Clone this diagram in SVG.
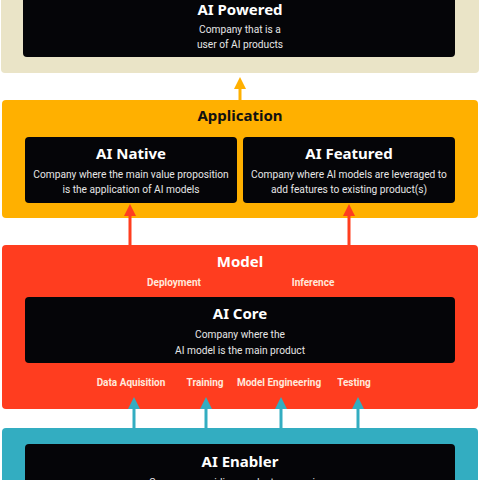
<svg xmlns="http://www.w3.org/2000/svg" width="480" height="480" viewBox="0 0 480 480">
<style>
text{font-family:"Noto Sans","Liberation Sans",sans-serif;text-anchor:middle}
.box{fill:#050508}
.t{font-size:15px;font-weight:700;fill:#fff}
.s{font-family:Roboto,"Liberation Sans",sans-serif;font-size:10.2px;fill:#e6e6e6}
.pt{font-size:15px;font-weight:700}
.lb{font-family:Roboto,"Liberation Sans",sans-serif;font-size:10px;font-weight:700;fill:#ffe9dc}
</style>
<defs>
<marker id="ay" markerWidth="4" markerHeight="4" refX="2" refY="2" orient="auto" markerUnits="strokeWidth"><path d="M0,0L4,2L0,4Z" fill="#FFB000"/></marker>
<marker id="ar" markerWidth="4" markerHeight="4" refX="2" refY="2" orient="auto" markerUnits="strokeWidth"><path d="M0,0L4,2L0,4Z" fill="#FF3D1F"/></marker>
<marker id="at" markerWidth="4" markerHeight="4" refX="2" refY="2" orient="auto" markerUnits="strokeWidth"><path d="M0,0L4,2L0,4Z" fill="#33ADC1"/></marker>
</defs>
<g id="panel-powered">
<rect x="1" y="-10" width="478" height="83" rx="4" fill="#EAE4C7"/>
<rect class="box" x="23" y="-10" width="432" height="67" rx="4"/>
<text class="t" x="240" y="15" font-size="16">AI Powered</text>
<text class="s" x="240" y="33">Company that is a</text>
<text class="s" x="240" y="48">user of AI products</text>
</g>
<g id="panel-application">
<rect x="2" y="100" width="476" height="118" rx="4" fill="#FFB000"/>
<text class="pt" x="240" y="121" fill="#111">Application</text>
</g>
<g id="ai-native">
<rect class="box" x="25" y="137" width="212" height="66" rx="4"/>
<text class="t" x="131" y="159">AI Native</text>
<text class="s" x="131" y="178">Company where the main value proposition</text>
<text class="s" x="131" y="193">is the application of AI models</text>
</g>
<g id="ai-featured">
<rect class="box" x="243" y="137" width="212" height="66" rx="4"/>
<text class="t" x="349" y="159">AI Featured</text>
<text class="s" x="349" y="178">Company where AI models are leveraged to</text>
<text class="s" x="349" y="193">add features to existing product(s)</text>
</g>
<g id="panel-model">
<rect x="2" y="245" width="476" height="164" rx="4" fill="#FF3D1F"/>
<text class="pt" x="240" y="267" fill="#fff">Model</text>
<text class="lb" x="174" y="286">Deployment</text>
<text class="lb" x="313" y="286">Inference</text>
<text class="lb" x="131" y="386">Data Aquisition</text>
<text class="lb" x="205" y="386">Training</text>
<text class="lb" x="279" y="386">Model Engineering</text>
<text class="lb" x="354" y="386">Testing</text>
</g>
<g id="ai-core">
<rect class="box" x="25" y="297" width="430" height="66" rx="4"/>
<text class="t" x="240" y="319">AI Core</text>
<text class="s" x="240" y="338">Company where the</text>
<text class="s" x="240" y="354">AI model is the main product</text>
</g>
<g id="panel-enabler">
<rect x="2" y="428" width="476" height="70" rx="4" fill="#33ADC1"/>
</g>
<g id="ai-enabler">
<rect class="box" x="25" y="444" width="430" height="50" rx="4"/>
<text class="t" x="240" y="467">AI Enabler</text>
<text class="s" x="240" y="486">Company providing products or services</text>
</g>
<g id="connectors" stroke-width="3" fill="none">
<line x1="240" y1="100" x2="240" y2="83" stroke="#FFB000" marker-end="url(#ay)"/>
<line x1="130" y1="245" x2="130" y2="210" stroke="#FF3D1F" marker-end="url(#ar)"/>
<line x1="349" y1="245" x2="349" y2="210" stroke="#FF3D1F" marker-end="url(#ar)"/>
<line x1="134" y1="428" x2="134" y2="403" stroke="#33ADC1" marker-end="url(#at)"/>
<line x1="206" y1="428" x2="206" y2="403" stroke="#33ADC1" marker-end="url(#at)"/>
<line x1="281" y1="428" x2="281" y2="403" stroke="#33ADC1" marker-end="url(#at)"/>
<line x1="358" y1="428" x2="358" y2="403" stroke="#33ADC1" marker-end="url(#at)"/>
</g>
</svg>
